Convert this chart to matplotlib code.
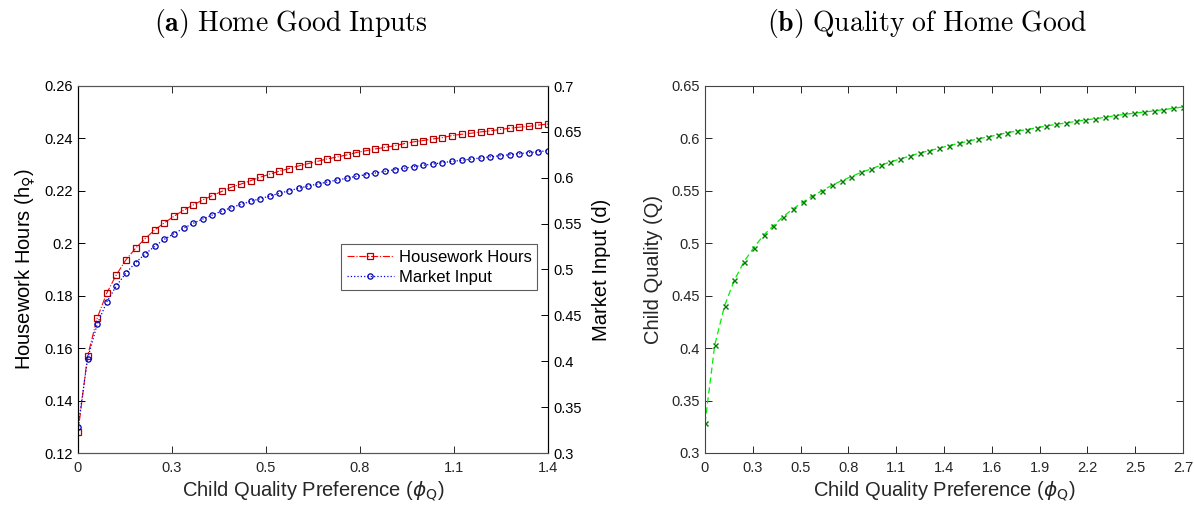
import numpy as np
import matplotlib
matplotlib.use("Agg")
import matplotlib.pyplot as plt

plt.rcParams['font.family'] = ['Liberation Sans', 'DejaVu Sans']
plt.rcParams['mathtext.fontset'] = 'dejavusans'

# preference grid for each panel
phi_a = np.linspace(0, 1.4, 50)
phi_b = np.linspace(0, 2.7, 50)

# housework hours h (left axis, panel a)
hours = [0.128, 0.157, 0.1715, 0.181, 0.188, 0.1937, 0.1981, 0.2018, 0.2051, 0.2078,
         0.2103, 0.2126, 0.2146, 0.2165, 0.2182, 0.2198, 0.2214, 0.2226, 0.2239, 0.2252,
         0.2264, 0.2275, 0.2285, 0.2295, 0.2304, 0.2313, 0.2322, 0.2329, 0.2337, 0.2346,
         0.2353, 0.2360, 0.2366, 0.2372, 0.2380, 0.2387, 0.2392, 0.2398, 0.2403, 0.2411,
         0.2416, 0.2420, 0.2425, 0.2429, 0.2434, 0.2439, 0.2443, 0.2446, 0.2451, 0.2455]

# market input d (right axis, panel a)
market = [0.328, 0.4028, 0.4403, 0.4646, 0.4822, 0.4962, 0.5074, 0.5169, 0.5253, 0.5329,
          0.5390, 0.5449, 0.5503, 0.5550, 0.5594, 0.5638, 0.5674, 0.5711, 0.5743, 0.5772,
          0.5801, 0.5830, 0.5859, 0.5885, 0.5910, 0.5932, 0.5954, 0.5975, 0.5994, 0.6016,
          0.6033, 0.6052, 0.6070, 0.6088, 0.6103, 0.6121, 0.6136, 0.6150, 0.6164, 0.6179,
          0.6190, 0.6204, 0.6215, 0.6229, 0.6240, 0.6251, 0.6262, 0.6273, 0.6284, 0.6295]

# child quality Q (panel b)
quality = [0.3283, 0.403, 0.4402, 0.4647, 0.4825, 0.4958, 0.5076, 0.5168, 0.5253, 0.5327,
           0.5391, 0.5451, 0.5501, 0.5553, 0.5597, 0.5635, 0.5677, 0.5708, 0.5744, 0.5775,
           0.5804, 0.5832, 0.5861, 0.5883, 0.5906, 0.5931, 0.5953, 0.5973, 0.5997, 0.6013,
           0.6035, 0.6055, 0.6071, 0.6083, 0.6102, 0.6118, 0.6135, 0.6147, 0.6163, 0.6176,
           0.6188, 0.6201, 0.6217, 0.6230, 0.6240, 0.6252, 0.6262, 0.6274, 0.6287, 0.6300]

xlabels_a = ['0', '0.3', '0.5', '0.8', '1.1', '1.4']
xlabels_b = ['0', '0.3', '0.5', '0.8', '1.1', '1.4', '1.6', '1.9', '2.2', '2.5', '2.7']
hours_ticks = [0.12, 0.14, 0.16, 0.18, 0.2, 0.22, 0.24, 0.26]
hours_labels = ['0.12', '0.14', '0.16', '0.18', '0.2', '0.22', '0.24', '0.26']
market_ticks = [0.3, 0.35, 0.4, 0.45, 0.5, 0.55, 0.6, 0.65, 0.7]
market_labels = ['0.3', '0.35', '0.4', '0.45', '0.5', '0.55', '0.6', '0.65', '0.7']
quality_ticks = [0.3, 0.35, 0.4, 0.45, 0.5, 0.55, 0.6, 0.65]
quality_labels = ['0.3', '0.35', '0.4', '0.45', '0.5', '0.55', '0.6', '0.65']

grey = '#262626'
tick_fs = 10.5
label_fs = 14.5

fig = plt.figure(figsize=(11.94, 5.08), dpi=100)
ax1 = fig.add_axes([78 / 1194, 55 / 508, 470 / 1194, 367 / 508])
ax2 = ax1.twinx()
ax3 = fig.add_axes([705 / 1194, 55 / 508, 478 / 1194, 367 / 508])

# panel (a): hours on the left axis, market input on the right
l1, = ax1.plot(phi_a, hours, color='#ff0000', ls='-.', lw=0.8, marker='s', ms=4.6,
               mfc='none', mec='#b00000', mew=0.9, label='Housework Hours')
l2, = ax2.plot(phi_a, market, color='#0000ff', ls=':', lw=0.9, marker='o', ms=3.8,
               mfc='none', mec='#0000b0', mew=0.9, label='Market Input')

ax1.set_xlim(0, 1.4)
ax1.set_ylim(0.12, 0.26)
ax2.set_ylim(0.3, 0.7)
ax1.set_xticks(np.linspace(0, 1.4, 6))
ax1.set_xticklabels(xlabels_a)
ax1.set_yticks(hours_ticks)
ax1.set_yticklabels(hours_labels)
ax2.set_yticks(market_ticks)
ax2.set_yticklabels(market_labels)

ax1.tick_params(axis='x', direction='in', top=True, length=5, width=0.7,
                labelsize=tick_fs, colors=grey, pad=6)
ax1.tick_params(axis='y', direction='in', length=5, width=0.7,
                labelsize=tick_fs, colors='k', pad=4)
ax2.tick_params(axis='y', direction='in', length=5, width=0.7,
                labelsize=tick_fs, colors='k', pad=4)
for ax in (ax1, ax2):
    for side in ('top', 'bottom'):
        ax.spines[side].set_color('#555555')
        ax.spines[side].set_linewidth(0.8)
    for side in ('left', 'right'):
        ax.spines[side].set_color('k')
        ax.spines[side].set_linewidth(0.8)

ax1.set_xlabel(r'Child Quality Preference ($\phi_{\mathrm{Q}}$)', fontsize=label_fs,
               color=grey, labelpad=3)
ax1.set_ylabel('Housework Hours (h$_{\u2640}$)', fontsize=label_fs, color='k', labelpad=5)
ax2.set_ylabel('Market Input (d)', fontsize=label_fs, color='k', rotation=90, labelpad=7)

leg = ax2.legend(handles=[l1, l2], loc='upper left', bbox_to_anchor=(0.56, 0.57),
                 fontsize=12, frameon=True, fancybox=False, handlelength=2.8,
                 borderpad=0.35, labelspacing=0.3, handletextpad=0.3, borderaxespad=0)
leg.get_frame().set_edgecolor('#333333')
leg.get_frame().set_linewidth(0.8)

# panel (b): child quality
ax3.plot(phi_b, quality, color='#00ee00', ls=(0, (5, 3)), lw=0.9, marker='x', ms=3.6,
         mec='#007a00', mew=1.0)
ax3.set_xlim(0, 2.7)
ax3.set_ylim(0.3, 0.65)
ax3.set_xticks(np.linspace(0, 2.7, 11))
ax3.set_xticklabels(xlabels_b)
ax3.set_yticks(quality_ticks)
ax3.set_yticklabels(quality_labels)
ax3.tick_params(axis='both', direction='in', top=True, right=True, length=5, width=0.7,
                labelsize=tick_fs, colors=grey)
ax3.tick_params(axis='x', pad=6)
for side in ax3.spines.values():
    side.set_color('#444444')
    side.set_linewidth(0.8)
ax3.set_xlabel(r'Child Quality Preference ($\phi_{\mathrm{Q}}$)', fontsize=label_fs,
               color=grey, labelpad=3)
ax3.set_ylabel('Child Quality (Q)', fontsize=label_fs, color=grey, labelpad=6)

# panel titles
fig.text(291 / 1194, 1 - 23 / 508, r'$\mathbf{(a)}\ \mathrm{Home\ Good\ Inputs}$',
         math_fontfamily='cm', fontsize=20, ha='center', va='center')
fig.text(927 / 1194, 1 - 23 / 508, r'$\mathbf{(b)}\ \mathrm{Quality\ of\ Home\ Good}$',
         math_fontfamily='cm', fontsize=20, ha='center', va='center')

fig.savefig('out.png', dpi=100)
